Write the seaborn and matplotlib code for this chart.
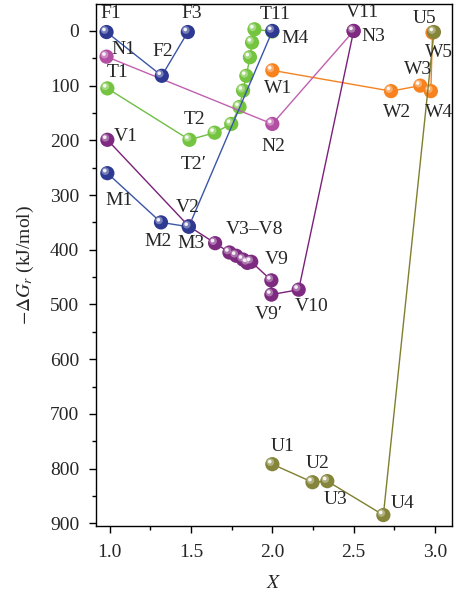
import matplotlib
matplotlib.use("Agg")
import matplotlib.pyplot as plt
import matplotlib.transforms as mtransforms
from matplotlib.ticker import MultipleLocator
import seaborn as sns
import pandas as pd

# ---- data ----
F_x = [0.98, 1.32, 1.48]
F_y = [2, 82, 2]
F_lab = ["F1", "F2", "F3"]

N_x = [0.98, 2.0, 2.5]
N_y = [47, 170, 0]
N_lab = ["N1", "N2", "N3"]

T_x = [0.985, 1.49, 1.645, 1.747, 1.798, 1.82, 1.84, 1.862, 1.875, 1.89, 2.0]
T_y = [105, 199, 186, 170, 139, 109, 82, 48, 21, -3, 1]

M_x = [0.985, 1.315, 1.486, 2.0]
M_y = [260, 350, 358, 0]
M_lab = ["M1", "M2", "M3", "M4"]

V_x = [0.985, 1.486, 1.648, 1.736, 1.778, 1.82, 1.846, 1.87, 1.994, 1.994, 2.162, 2.5]
V_y = [199, 357, 388, 405, 411, 418, 424, 422, 456, 482, 473, 0]

W_x = [2.0, 2.73, 2.91, 2.975, 2.985]
W_y = [72, 110, 100, 110, 3]
W_lab = ["W1", "W2", "W3", "W4", "W5"]

U_x = [2.0, 2.247, 2.338, 2.683, 2.994]
U_y = [792, 825, 823, 885, 2]
U_lab = ["U1", "U2", "U3", "U4", "U5"]

# ---- style ----
sns.set_theme(style="ticks")
plt.rcParams["font.family"] = ["Liberation Serif", "DejaVu Serif"]
plt.rcParams["mathtext.fontset"] = "stix"
plt.rcParams["xtick.direction"] = "out"
plt.rcParams["ytick.direction"] = "out"

fig = plt.figure(figsize=(4.57, 5.93), dpi=100)
ax = fig.add_axes([0.210, 0.113, 0.779, 0.880])

series = [
    # x, y, line colour, marker colour
    (W_x, W_y, "#F58220", "#F7821E"),
    (T_x, T_y, "#6DBF45", "#74C43F"),
    (N_x, N_y, "#C060B0", "#B24FA2"),
    (V_x, V_y, "#7A2079", "#7D2A80"),
    (F_x, F_y, "#3A56A8", "#2E3A92"),
    (M_x, M_y, "#3A56A8", "#2E3A92"),
    (U_x, U_y, "#7F7F2E", "#84843A"),
]

hl = mtransforms.offset_copy(ax.transData, fig=fig, x=-2.0, y=2.0, units="dots")
hl2 = mtransforms.offset_copy(ax.transData, fig=fig, x=-2.6, y=2.6, units="dots")

z = 2
for xs, ys, lc, mc in series:
    df = pd.DataFrame({"x": xs, "y": ys})
    sns.lineplot(data=df, x="x", y="y", sort=False, estimator=None, color=lc,
                 linewidth=1.0, ax=ax, zorder=z)
    ax.scatter(xs, ys, s=105, color=mc, edgecolors="none", zorder=z + 0.1)
    ax.scatter(xs, ys, s=30, color="white", alpha=0.35, edgecolors="none",
               transform=hl, zorder=z + 0.2)
    ax.scatter(xs, ys, s=7, color="white", alpha=0.9, edgecolors="none",
               transform=hl2, zorder=z + 0.3)
    z += 1

# ---- labels (offsets in pixels) ----
def lab(txt, x, y, dx, dy):
    ax.annotate(txt, (x, y), xytext=(dx, -dy), textcoords="offset pixels",
                ha="center", va="center", fontsize=14, zorder=20)

for t, x, y, o in zip(F_lab, F_x, F_y, [(4, -19), (1, -24), (4, -19)]):
    lab(t, x, y, *o)
for t, x, y, o in zip(N_lab, N_x, N_y, [(17, -7), (1, 23), (20, 6)]):
    lab(t, x, y, *o)
lab("T1", T_x[0], T_y[0], 10, -16)
lab("T2", T_x[1], T_y[1], 5, -20)
lab("T2\u2032", T_x[1], T_y[1], 4, 25)
lab("T11", T_x[-1], T_y[-1], 3, -17)
for t, x, y, o in zip(M_lab, M_x, M_y, [(12, 27), (-3, 19), (2, 17), (23, 8)]):
    lab(t, x, y, *o)
lab("V1", V_x[0], V_y[0], 18, -3)
lab("V2", V_x[1], V_y[1], -1, -19)
lab("V3\u2013V8", V_x[2], V_y[2], 39, -14)
lab("V9", V_x[8], V_y[8], 5, -21)
lab("V9\u2032", V_x[9], V_y[9], -3, 20)
lab("V10", V_x[10], V_y[10], 13, 17)
lab("V11", V_x[11], V_y[11], 9, -18)
for t, x, y, o in zip(W_lab, W_x, W_y, [(6, 18), (6, 21), (-2, -16), (8, 21), (7, 20)]):
    lab(t, x, y, *o)
for t, x, y, o in zip(U_lab, U_x, U_y, [(10, -18), (5, -19), (8, 18), (19, -12), (-9, -14)]):
    lab(t, x, y, *o)

# ---- axes ----
ax.set_xlim(0.915, 3.105)
ax.set_ylim(905, -49)
ax.xaxis.set_major_locator(MultipleLocator(0.5))
ax.xaxis.set_minor_locator(MultipleLocator(0.25))
ax.yaxis.set_major_locator(MultipleLocator(100))
ax.yaxis.set_minor_locator(MultipleLocator(50))
ax.set_xticks([1.0, 1.5, 2.0, 2.5, 3.0])
ax.set_yticks(list(range(0, 901, 100)))
ax.tick_params(which="major", length=5, width=1.0, labelsize=14, color="black")
ax.tick_params(axis="x", which="major", pad=8)
ax.tick_params(axis="y", which="major", pad=7)
ax.tick_params(which="minor", length=3, width=1.0, color="black")
ax.tick_params(top=False, right=False, which="both")
for s in ax.spines.values():
    s.set_linewidth(1.0)
    s.set_color("black")
ax.set_xlabel("$X$", fontsize=14, labelpad=10)
ax.set_ylabel(r"$-\Delta G_r$ (kJ/mol)", fontsize=14, labelpad=10)

fig.savefig("out.png", dpi=100)
